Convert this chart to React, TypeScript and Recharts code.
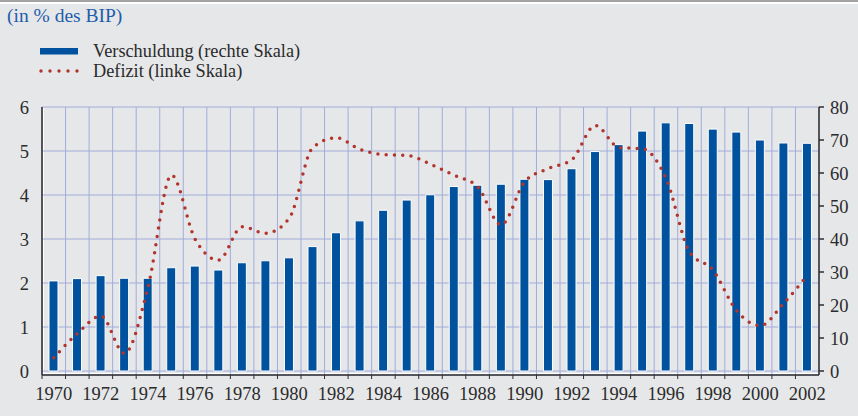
import { ComposedChart, Bar, Line, XAxis, YAxis, CartesianGrid } from "recharts";

const YEARS = [
  "1970", "1971", "1972", "1973", "1974", "1975", "1976", "1977", "1978", "1979", "1980",
  "1981", "1982", "1983", "1984", "1985", "1986", "1987", "1988", "1989", "1990", "1991",
  "1992", "1993", "1994", "1995", "1996", "1997", "1998", "1999", "2000", "2001", "2002",
];

// Verschuldung, % des BIP (rechte Skala)
const DEBT = [
  27.3, 28.0, 28.9, 28.1, 28.1, 31.3, 31.8, 30.6, 32.8, 33.4, 34.3,
  37.7, 41.9, 45.5, 48.7, 51.8, 53.4, 55.9, 56.3, 56.6, 58.1, 58.0,
  61.3, 66.5, 68.6, 72.7, 75.2, 75.0, 73.3, 72.4, 70.0, 69.1, 69.0,
];

// Defizit, % des BIP (linke Skala)
const DEFICIT = [
  0.3, 0.85, 1.25, 0.4, 1.9, 4.45, 3.0, 2.52, 3.28, 3.13, 3.47,
  5.08, 5.3, 5.04, 4.92, 4.9, 4.7, 4.45, 4.19, 3.32, 4.3, 4.6,
  4.8, 5.58, 5.08, 5.05, 4.38, 2.71, 2.29, 1.37, 1.03, 1.54, 2.17,
];

const LEFT_TICKS = [0, 1, 2, 3, 4, 5, 6];
const RIGHT_TICKS = [0, 10, 20, 30, 40, 50, 60, 70, 80];

const data = YEARS.map((year, i) => ({ year, debt: DEBT[i], deficit: DEFICIT[i] }));

const BG = "#e6e7e9";
const BLUE = "#00529f";
const RED = "#b2352d";
const GRID = "#a1acdb";
const AXIS = "#2e2e2e";
const TEXT = "#2b2b2b";
const FONT = "'Liberation Serif', 'Times New Roman', serif";

const W = 858;
const H = 416;
const PLOT_LEFT = 42;
const PLOT_RIGHT = 819;
const BAND = (PLOT_RIGHT - PLOT_LEFT) / YEARS.length;

function YearTick(props: any) {
  const { x, y, payload, index } = props;
  const bx = x - BAND / 2;
  return (
    <g>
      <line x1={bx} x2={bx} y1={y} y2={y + 4} stroke={AXIS} strokeWidth={1} />
      {index % 2 === 0 && (
        <text x={x} y={y + 24.5} textAnchor="middle" fill={TEXT} fontSize={18.5} fontFamily={FONT}>
          {payload.value}
        </text>
      )}
    </g>
  );
}

export default function App() {
  return (
    <div style={{ position: "absolute", left: 0, top: 0, width: W, height: H, background: BG, overflow: "hidden" }}>
      <div style={{ position: "absolute", left: 0, top: 0, width: W, height: 2, background: "#a3a3a3" }} />
      <div style={{ position: "absolute", left: 0, top: 2, width: W, height: 2, background: "#ffffff" }} />
      {/* white highlight next to the axis lines */}
      <div style={{ position: "absolute", left: 43, top: 107, width: 1, height: 268, background: "#fff" }} />
      <div style={{ position: "absolute", left: 42, top: 373, width: 777, height: 1, background: "#fff" }} />

      <svg width={W} height={90} style={{ position: "absolute", left: 0, top: 0 }}>
        <text x={7} y={22} fill="#1f5ea8" fontSize={19.5} fontFamily={FONT}>
          (in % des BIP)
        </text>
        <rect x={40} y={48} width={38} height={6.5} fill={BLUE} />
        <text x={93} y={56.5} fill={TEXT} fontSize={18.3} fontFamily={FONT}>
          Verschuldung (rechte Skala)
        </text>
        <line x1={41} x2={79} y1={71} y2={71} stroke={RED} strokeWidth={3.4} strokeDasharray="0 9" strokeLinecap="round" />
        <text x={93} y={76.5} fill={TEXT} fontSize={18.3} fontFamily={FONT}>
          Defizit (linke Skala)
        </text>
      </svg>

      <ComposedChart
        width={W}
        height={H}
        data={data}
        margin={{ top: 107, right: 0, bottom: 0, left: 0 }}
        style={{ position: "absolute", left: 0, top: 0 }}
      >
        <CartesianGrid
          yAxisId="left"
          stroke={GRID}
          strokeWidth={1}
          verticalCoordinatesGenerator={({ offset }: any) =>
            YEARS.map((_, i) => offset.left + (i * offset.width) / YEARS.length).concat(offset.left + offset.width)
          }
        />
        <XAxis
          dataKey="year"
          interval={0}
          height={41}
          tickSize={0}
          tickMargin={0}
          tickLine={false}
          axisLine={{ stroke: AXIS, strokeWidth: 1.5 }}
          tick={<YearTick />}
        />
        <YAxis
          yAxisId="left"
          orientation="left"
          width={42}
          domain={[-0.0909, 6]}
          ticks={LEFT_TICKS}
          allowDataOverflow
          tickLine={false}
          tickSize={0}
          tickMargin={13}
          axisLine={{ stroke: AXIS, strokeWidth: 1.5 }}
          tick={{ fill: TEXT, fontSize: 18.5, fontFamily: FONT }}
        />
        <YAxis
          yAxisId="right"
          orientation="right"
          width={39}
          domain={[-1.212, 80]}
          ticks={RIGHT_TICKS}
          allowDataOverflow
          tickSize={5}
          tickMargin={6}
          tickLine={{ stroke: AXIS, strokeWidth: 1.5 }}
          axisLine={{ stroke: AXIS, strokeWidth: 1.5 }}
          tick={{ fill: TEXT, fontSize: 18.5, fontFamily: FONT, textAnchor: "start" }}
        />
        <Bar
          yAxisId="right"
          dataKey="debt"
          barSize={9}
          fill={BLUE}
          stroke="#ffffff"
          strokeWidth={1}
          isAnimationActive={false}
        />
        <Line
          yAxisId="left"
          dataKey="deficit"
          type="monotone"
          stroke={RED}
          strokeWidth={3.5}
          strokeDasharray="0 8.3"
          strokeLinecap="round"
          dot={false}
          activeDot={false}
          isAnimationActive={false}
        />
      </ComposedChart>
    </div>
  );
}
